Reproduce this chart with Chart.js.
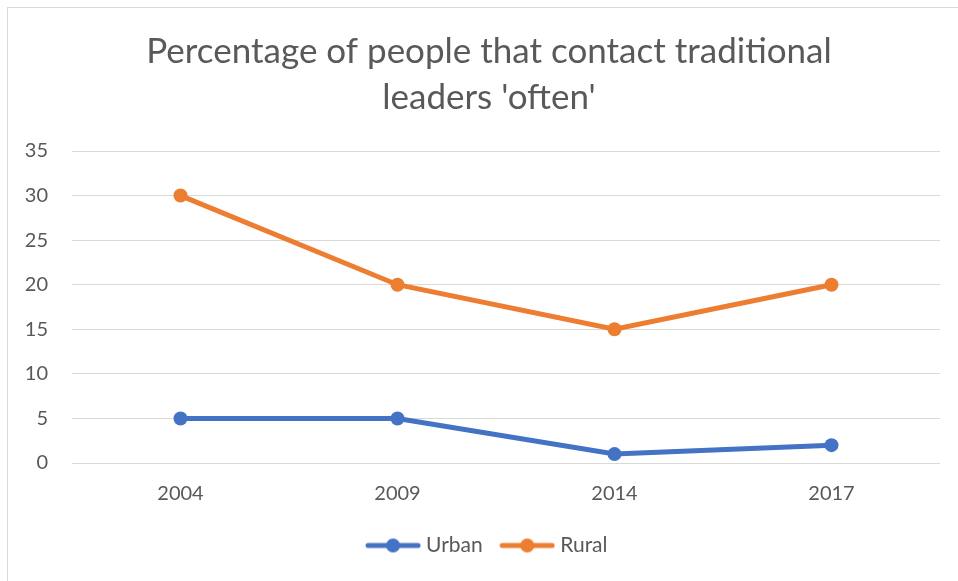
<!DOCTYPE html>
<html>
<head>
<meta charset="utf-8">
<script src="https://cdn.jsdelivr.net/npm/chart.js@4"></script>
<style>
  body { margin: 0; background: #fff; }
  #frame { position: absolute; left: 7px; top: 7px; width: 1000px; height: 620px; border: 1px solid #d9d9d9; }
  #wrap { position: absolute; left: 0; top: 0; width: 958px; height: 581px; }
</style>
</head>
<body>
<div id="frame"></div>
<div id="wrap"><canvas id="lineChart" width="958" height="581"></canvas></div>
<script>
const years = ['2004', '2009', '2014', '2017'];
const urban = [5, 5, 1, 2];
const rural = [30, 20, 15, 20];
const yTicks = [0, 5, 10, 15, 20, 25, 30, 35];

const blue = '#4472C4';
const orange = '#ED7D31';
const grey = '#595959';
const font = 'Lato, "Open Sans", sans-serif';

// legend marker: short line with a dot in the middle
function legendMark(color) {
  const c = document.createElement('canvas');
  c.width = 56; c.height = 16;
  const ctx = c.getContext('2d');
  ctx.strokeStyle = color;
  ctx.lineWidth = 5;
  ctx.lineCap = 'round';
  ctx.beginPath();
  ctx.moveTo(3, 8); ctx.lineTo(53, 8);
  ctx.stroke();
  ctx.fillStyle = color;
  ctx.beginPath();
  ctx.arc(28, 8, 7, 0, Math.PI * 2);
  ctx.fill();
  return c;
}

// title and legend are centred a bit right of the plot in the original
const shiftBlocks = {
  id: 'shiftBlocks',
  beforeDraw(chart) {
    [chart.titleBlock, chart.legend].forEach(function (b) {
      if (b) { b.left = 38; b.right = 940; }
    });
  }
};

let lineChart = new Chart(document.getElementById('lineChart'), {
  type: 'line',
  data: {
    labels: years,
    datasets: [
      {
        label: 'Urban',
        data: urban,
        borderColor: blue,
        backgroundColor: blue,
        borderWidth: 5,
        pointRadius: 7,
        pointHoverRadius: 7,
        pointBorderWidth: 0,
        fill: false
      },
      {
        label: 'Rural',
        data: rural,
        borderColor: orange,
        backgroundColor: orange,
        borderWidth: 5,
        pointRadius: 7,
        pointHoverRadius: 7,
        pointBorderWidth: 0,
        fill: false
      }
    ]
  },
  options: {
    responsive: false,
    animation: false,
    layout: { padding: { left: 0, right: 18, top: 0, bottom: 15 } },
    plugins: {
      title: {
        display: true,
        text: ["Percentage of people that contact traditional", "leaders 'often'"],
        color: grey,
        font: { family: font, size: 35, weight: 'normal', lineHeight: 1.3 },
        padding: { top: 29, bottom: 31 }
      },
      legend: {
        position: 'bottom',
        labels: {
          color: grey,
          font: { family: font, size: 21 },
          usePointStyle: true,
          pointStyleWidth: 45,
          boxHeight: 16,
          padding: 22,
          generateLabels: function (chart) {
            return chart.data.datasets.map(function (ds, i) {
              return {
                text: ds.label,
                fontColor: grey,
                pointStyle: legendMark(ds.borderColor),
                strokeStyle: ds.borderColor,
                fillStyle: ds.borderColor,
                lineWidth: 0,
                datasetIndex: i
              };
            });
          }
        }
      },
      tooltip: { enabled: false }
    },
    scales: {
      x: {
        offset: true,
        grid: { display: false },
        border: { display: false },
        ticks: { color: grey, font: { family: font, size: 20 }, padding: 11 },
        afterFit: function (s) { s.height = 50; }
      },
      y: {
        min: 0,
        max: 35,
        afterBuildTicks: function (s) { s.ticks = yTicks.map(v => ({ value: v })); },
        grid: { color: '#d9d9d9', lineWidth: 1, drawTicks: false },
        border: { display: false },
        ticks: { color: grey, font: { family: font, size: 20 }, padding: 24 },
        afterFit: function (s) { s.width = 72; }
      }
    }
  },
  plugins: [shiftBlocks]
});
</script>
</body>
</html>
